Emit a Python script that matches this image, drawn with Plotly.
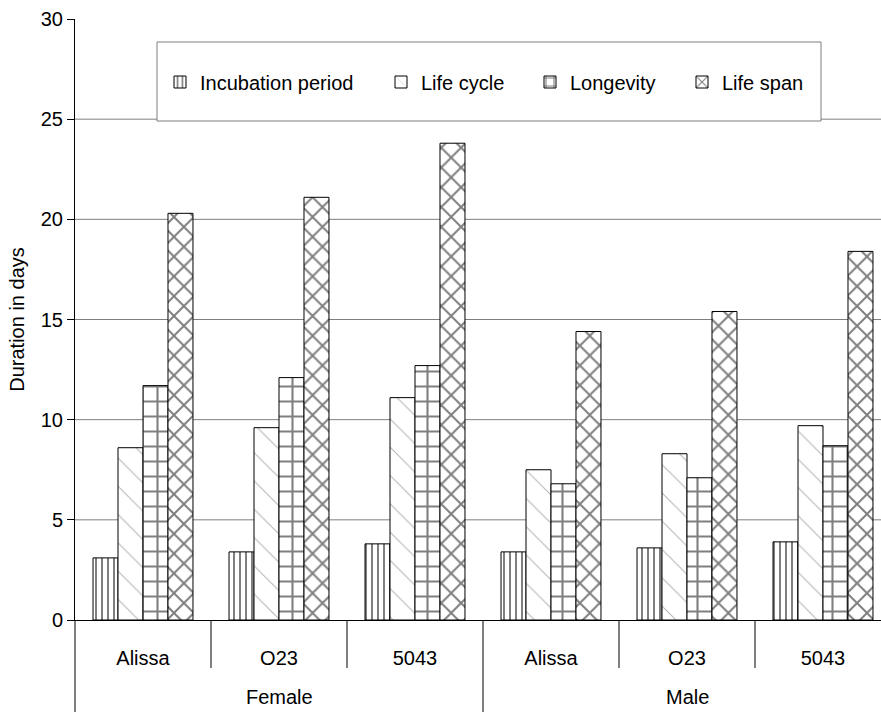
import plotly.graph_objects as go

# Two-level categories: sex (outer) and strain (inner)
sexes = ["Female", "Female", "Female", "Male", "Male", "Male"]
strains = ["Alissa", "O23", "5043", "Alissa", "O23", "5043"]

# Durations in days for each developmental stage
incubation_period = [3.1, 3.4, 3.8, 3.4, 3.6, 3.9]
life_cycle = [8.6, 9.6, 11.1, 7.5, 8.3, 9.7]
longevity = [11.7, 12.1, 12.7, 6.8, 7.1, 8.7]
life_span = [20.3, 21.1, 23.8, 14.4, 15.4, 18.4]

series_names = ["Incubation period", "Life cycle", "Longevity", "Life span"]
y_ticks = [0, 5, 10, 15, 20, 25, 30]
grid_values = [5, 10, 15, 20, 25]

FONT = "Liberation Sans, Arial, sans-serif"
FS = 20

positions = list(range(len(strains)))

patterns = [
    dict(shape="|", size=6, solidity=0.34),
    dict(shape="\\", size=20, solidity=0.05, fgcolor="#666666"),
    dict(shape="+", size=15, solidity=0.26),
    dict(shape="x", size=14, solidity=0.26),
]
series_values = [incubation_period, life_cycle, longevity, life_span]
legend_ids = ["legend", "legend2", "legend3", "legend4"]

fig = go.Figure()
for name, vals, pat, lg in zip(series_names, series_values, patterns, legend_ids):
    p = dict(fgcolor="black", bgcolor="white", fillmode="overlay")
    p.update(pat)
    fig.add_trace(go.Bar(
        x=positions,
        y=vals,
        name=name,
        legend=lg,
        showlegend=True,
        marker=dict(color="white", pattern=p, line=dict(color="black", width=1)),
    ))

shapes = []
# horizontal gridlines (none at the top of the axis)
for g in grid_values:
    shapes.append(dict(type="line", xref="paper", yref="y", x0=0, x1=1, y0=g, y1=g,
                       line=dict(color="#7f7f7f", width=1), layer="below"))

# legend frame, drawn over the gridlines
shapes.append(dict(type="rect", xref="paper", yref="paper",
                   x0=(157 - 75) / 806, x1=(821 - 75) / 806,
                   y0=(620 - 121) / 601, y1=(620 - 42) / 601,
                   fillcolor="white", line=dict(color="#7f7f7f", width=1), layer="below"))

# category dividers below the axis: short between strains, long between sexes
for i in range(len(positions) - 1):
    long_div = sexes[i] != sexes[i + 1]
    shapes.append(dict(type="line", xref="x", yref="paper",
                       x0=positions[i] + 0.5, x1=positions[i] + 0.5,
                       y0=0, y1=-(92 if long_div else 48) / 601,
                       line=dict(color="black", width=1)))
# y-axis line continued down through the label area
shapes.append(dict(type="line", xref="paper", yref="paper", x0=0, x1=0,
                   y0=0, y1=-92 / 601, line=dict(color="black", width=1)))

# outer category labels
annotations = []
for sex in dict.fromkeys(sexes):
    idx = [p for p, s in zip(positions, sexes) if s == sex]
    annotations.append(dict(x=sum(idx) / len(idx), y=-(697 - 620) / 601,
                            xref="x", yref="paper", text=sex, showarrow=False,
                            xanchor="center", yanchor="middle",
                            font=dict(family=FONT, size=FS, color="black")))

legend_common = dict(orientation="h", bgcolor="rgba(0,0,0,0)", borderwidth=0,
                     font=dict(family=FONT, size=FS, color="black"),
                     xanchor="left", yanchor="middle", y=(620 - 82) / 601,
                     itemwidth=30, tracegroupgap=0, visible=True)
legend_text_x = [200, 421, 570, 722]
layout_legends = {}
for lg, tx in zip(legend_ids, legend_text_x):
    d = dict(legend_common)
    d["x"] = (tx - 75 - 40) / 806
    layout_legends[lg] = d

fig.update_layout(
    width=881, height=712,
    margin=dict(l=75, r=0, t=19, b=92),
    paper_bgcolor="white", plot_bgcolor="white",
    showlegend=True,
    barmode="group", bargap=0.265, bargroupgap=0,
    font=dict(family=FONT, size=FS, color="black"),
    shapes=shapes,
    annotations=annotations,
    **layout_legends,
)

fig.update_yaxes(
    range=[0, 30], tickvals=y_ticks, showgrid=False, zeroline=False,
    showline=True, linecolor="black", linewidth=1,
    ticks="outside", ticklen=7, tickcolor="black",
    tickfont=dict(family=FONT, size=FS),
    title=dict(text="Duration in days", font=dict(family=FONT, size=FS), standoff=10),
)
fig.update_xaxes(
    range=[-0.5, 5.5 - 10 / 136],
    tickvals=positions, ticktext=strains,
    showline=True, linecolor="black", linewidth=1, showgrid=False, zeroline=False,
    ticks="", ticklabelstandoff=20, tickfont=dict(family=FONT, size=FS),
)

fig.write_html("out.html")
